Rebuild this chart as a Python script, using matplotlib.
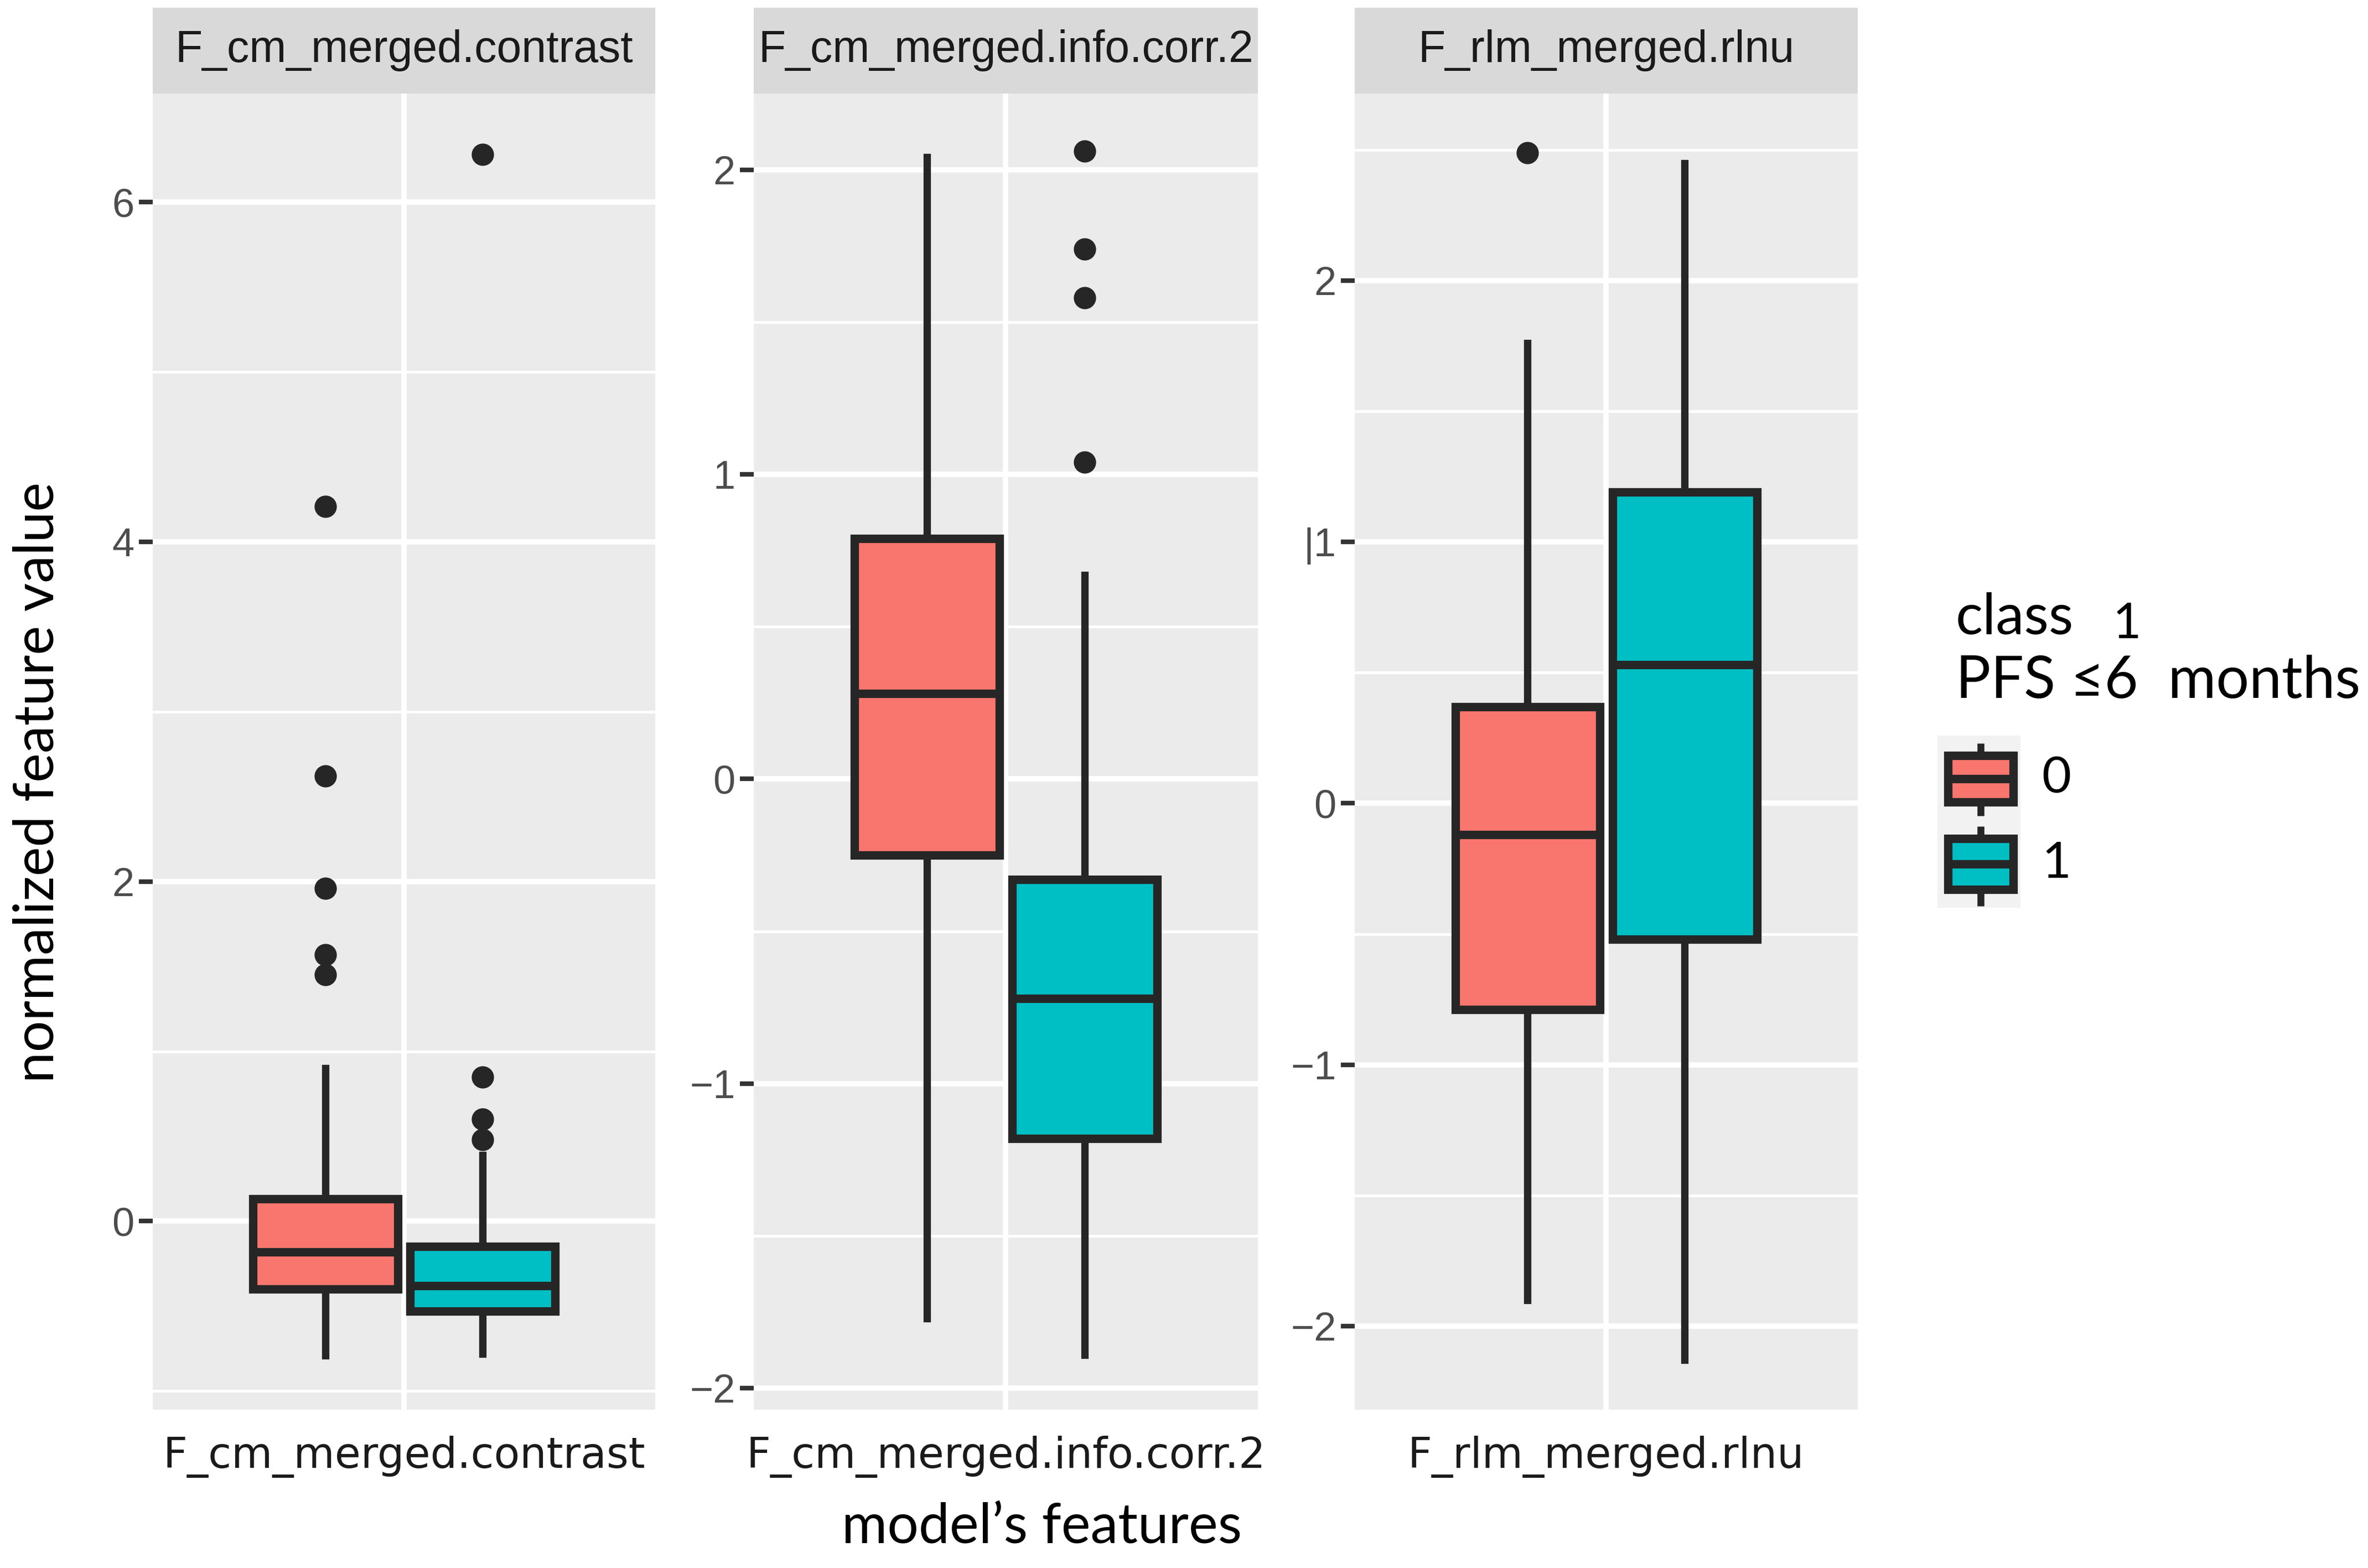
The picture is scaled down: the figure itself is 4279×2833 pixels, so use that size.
import matplotlib
matplotlib.use("Agg")
import matplotlib.pyplot as plt
from matplotlib.patches import Rectangle

# ---------------- data ----------------
features = ["F_cm_merged.contrast", "F_cm_merged.info.corr.2", "F_rlm_merged.rlnu"]
classes = ["0", "1"]
class_colors = ["#F8766D", "#00BFC4"]

# class 0 box statistics per feature
q1_c0 = [-0.40, -0.25, -0.79]
med_c0 = [-0.18, 0.28, -0.12]
q3_c0 = [0.13, 0.79, 0.37]
wlo_c0 = [-0.79, -1.77, -1.90]
whi_c0 = [0.90, 2.04, 1.76]
out_c0 = [[4.21, 2.62, 1.96, 1.57, 1.45], [], [2.49]]

# class 1 box statistics per feature
q1_c1 = [-0.53, -1.18, -0.52]
med_c1 = [-0.38, -0.72, 0.53]
q3_c1 = [-0.15, -0.33, 1.19]
wlo_c1 = [-0.78, -1.89, -2.13]
whi_c1 = [0.39, 0.67, 2.45]
out_c1 = [[0.48, 0.60, 0.85, 6.28], [1.04, 1.58, 1.74, 2.06], []]

# axis settings
ylims = [(-1.11, 6.64), (-2.07, 2.25), (-2.32, 2.716)]
major_ticks = [[0, 2, 4, 6], [-2, -1, 0, 1, 2], [-2, -1, 0, 1, 2]]
major_labels = [["0", "2", "4", "6"],
                ["\u22122", "\u22121", "0", "1", "2"],
                ["\u22122", "\u22121", "0", "|1", "2"]]
minor_ticks = [[-1, 1, 3, 5], [-1.5, -0.5, 0.5, 1.5], [-1.5, -0.5, 0.5, 1.5, 2.5]]

y_title = "normalized feature value"
x_title = "model\u2019s features"
legend_title_1 = "class"
legend_title_mark = "1"
legend_title_2 = "PFS \u22646  months"

# ---------------- layout (reference layout units) ----------------
W, H = 1568.0, 1040.0
def fx(px): return px / W
def fy(py): return 1 - py / H

fig = plt.figure(figsize=(21.395, 14.165), dpi=200)
fig.patch.set_facecolor("white")

panel_left = [101, 499, 897]
panel_right = [434, 833, 1230]
p_top, p_bottom, s_top = 62, 935, 5
edge = "#262626"

for i, feat in enumerate(features):
    l, r = panel_left[i], panel_right[i]
    ax = fig.add_axes([fx(l), fy(p_bottom), (r - l) / W, (p_bottom - p_top) / H])
    ax.set_facecolor("#EBEBEB")
    for s in ax.spines.values():
        s.set_visible(False)

    stats = [
        dict(med=med_c0[i], q1=q1_c0[i], q3=q3_c0[i], whislo=wlo_c0[i], whishi=whi_c0[i], fliers=out_c0[i]),
        dict(med=med_c1[i], q1=q1_c1[i], q3=q3_c1[i], whislo=wlo_c1[i], whishi=whi_c1[i], fliers=out_c1[i]),
    ]
    bp = ax.bxp(stats, positions=[0.8125, 1.1875], widths=0.345, patch_artist=True,
                showcaps=False, manage_ticks=False,
                boxprops=dict(edgecolor=edge, linewidth=5.5),
                medianprops=dict(color=edge, linewidth=5.5, solid_capstyle="butt"),
                whiskerprops=dict(color=edge, linewidth=4.8),
                flierprops=dict(marker="o", markersize=13.5, markerfacecolor=edge,
                                markeredgecolor=edge, linestyle="none"))
    for patch, c in zip(bp["boxes"], class_colors):
        patch.set_facecolor(c)
        patch.set_joinstyle("miter")

    ax.set_xlim(0.4, 1.6)
    ax.set_ylim(*ylims[i])
    ax.set_yticks(major_ticks[i])
    ax.set_yticklabels(major_labels[i])
    ax.set_yticks(minor_ticks[i], minor=True)
    ax.set_xticks([1])
    ax.set_xticklabels([feat], fontfamily="DejaVu Sans", fontsize=27.5, color="#1A1A1A")
    ax.set_axisbelow(True)
    ax.grid(which="major", color="white", lw=3.5)
    ax.grid(which="minor", axis="y", color="white", lw=1.8)
    ax.tick_params(axis="y", which="major", length=9, width=3, color="#333333",
                   labelsize=26, labelcolor="#4D4D4D", pad=3)
    for t in ax.get_yticklabels():
        t.set_fontfamily("Liberation Sans")
    ax.tick_params(axis="y", which="minor", length=0)
    ax.tick_params(axis="x", length=0, pad=17)

    # strip
    sax = fig.add_axes([fx(l), fy(p_top), (r - l) / W, (p_top - s_top) / H])
    sax.set_facecolor("#D9D9D9")
    sax.set_xticks([]); sax.set_yticks([])
    for s in sax.spines.values():
        s.set_visible(False)
    sax.text(0.5, 0.5, feat, ha="center", va="center", fontsize=29,
             fontfamily="Liberation Sans", color="#1A1A1A", transform=sax.transAxes)

# axis titles
fig.text(fx(25), fy(519), y_title, rotation=90, ha="center", va="center",
         fontsize=36, fontfamily=["Lato", "DejaVu Sans"], color="black")
fig.text(fx(690), fy(1013), x_title, ha="center", va="center",
         fontsize=36, fontfamily=["Lato", "DejaVu Sans"], color="black")

# legend
lf = ["Lato", "DejaVu Sans"]
fig.text(fx(1295), fy(410), legend_title_1, ha="left", va="center", fontsize=37, fontfamily=lf)
fig.text(fx(1399), fy(414), legend_title_mark, ha="left", va="center", fontsize=32, fontfamily=lf)
fig.text(fx(1295), fy(452), legend_title_2, ha="left", va="center", fontsize=38, fontfamily=lf)

lax = fig.add_axes([fx(1283), fy(602), 55 / W, 114 / H])
lax.set_xlim(1283, 1338)
lax.set_ylim(602, 488)
lax.set_facecolor("#F2F2F2")
lax.set_xticks([]); lax.set_yticks([])
for s in lax.spines.values():
    s.set_visible(False)
key_boxes = [(501, 532, 493, 541), (556, 590, 548, 601)]
for (b0, b1, w0, w1), c, lab in zip(key_boxes, class_colors, classes):
    xc = 1311.5
    lax.plot([xc, xc], [w0, b0], color=edge, lw=4.5, solid_capstyle="butt")
    lax.plot([xc, xc], [b1, w1], color=edge, lw=4.5, solid_capstyle="butt")
    lax.add_patch(Rectangle((1290, b0), 43, b1 - b0, facecolor=c, edgecolor=edge, lw=5.5))
    lax.plot([1290, 1333], [(b0 + b1) / 2] * 2, color=edge, lw=5.5, solid_capstyle="butt")
    fig.text(fx(1352), fy((b0 + b1) / 2), lab, ha="left", va="center", fontsize=33, fontfamily=lf)

fig.savefig("out.png", dpi=200, facecolor="white")
